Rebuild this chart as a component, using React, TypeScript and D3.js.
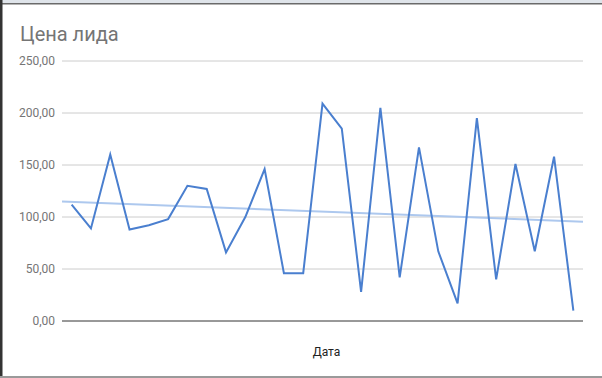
import React from "react";
import * as d3 from "d3";

const title = "Цена лида";
const xAxisTitle = "Дата";
const values = [112, 89, 160, 88, 92, 98, 130, 127, 66, 100, 146, 46, 46, 209, 185, 28, 205, 42, 167, 67, 17, 195, 40, 151, 67, 158, 10];
const yTicks = [0, 50, 100, 150, 200, 250];

const W = 602, H = 378;
const left = 62, right = 583, top = 61, bottom = 321;

export default function App() {
  const idx = values.map((_, i) => i);
  const x = d3.scaleBand<number>().domain(idx).range([left, right]).padding(0);
  const cx = (i: number) => (x(i) as number) + x.bandwidth() / 2;
  const y = d3.scaleLinear().domain([0, 250]).range([bottom, top]);
  const line = d3.line<number>().x((_, i) => cx(i)).y((d) => y(d));

  // linear regression trendline
  const n = values.length;
  const mx = d3.mean(idx) as number;
  const my = d3.mean(values) as number;
  const sxy = d3.sum(idx, (i) => (i - mx) * (values[i] - my));
  const sxx = d3.sum(idx, (i) => (i - mx) * (i - mx));
  const slope = sxy / sxx;
  const inter = my - slope * mx;
  const xi = d3.scaleLinear().domain([-0.5, n - 0.5]).range([left, right]);
  const t0 = -0.5, t1 = n - 0.5;

  const fmt = (v: number) => v.toFixed(2).replace(".", ",");

  return (
    <svg width={W} height={H} style={{ position: "fixed", left: 0, top: 0, background: "#fff" }}
      fontFamily="Roboto, Arial, sans-serif">
      <rect x={0} y={0} width={W} height={H} fill="#fff" />
      <rect x={0} y={0} width={W} height={3} fill="#dfe4ea" />
      <rect x={0} y={3} width={W} height={1.5} fill="#6a6a6a" />
      <rect x={0} y={0} width={2.5} height={H} fill="#333" />
      <rect x={0} y={376} width={W} height={2} fill="#9a9a9a" />
      <text x={20} y={41} fontSize={20} fill="#757575">{title}</text>
      {yTicks.map((t) => (
        <g key={t}>
          <line x1={left} x2={right} y1={y(t)} y2={y(t)} stroke={t === 0 ? "#333" : "#cccccc"} strokeWidth={1} />
          <text x={55} y={y(t) + 4} fontSize={12} fill="#757575" textAnchor="end">{fmt(t)}</text>
        </g>
      ))}
      <line x1={xi(t0)} x2={xi(t1)} y1={y(inter + slope * t0)} y2={y(inter + slope * t1)}
        stroke="#adc8ee" strokeWidth={2} />
      <path d={line(values) as string} fill="none" stroke="#4a7fcf" strokeWidth={2} strokeLinejoin="miter" />
      <text x={(left + right) / 2 + 4} y={356} fontSize={12} fill="#222" textAnchor="middle">{xAxisTitle}</text>
    </svg>
  );
}
